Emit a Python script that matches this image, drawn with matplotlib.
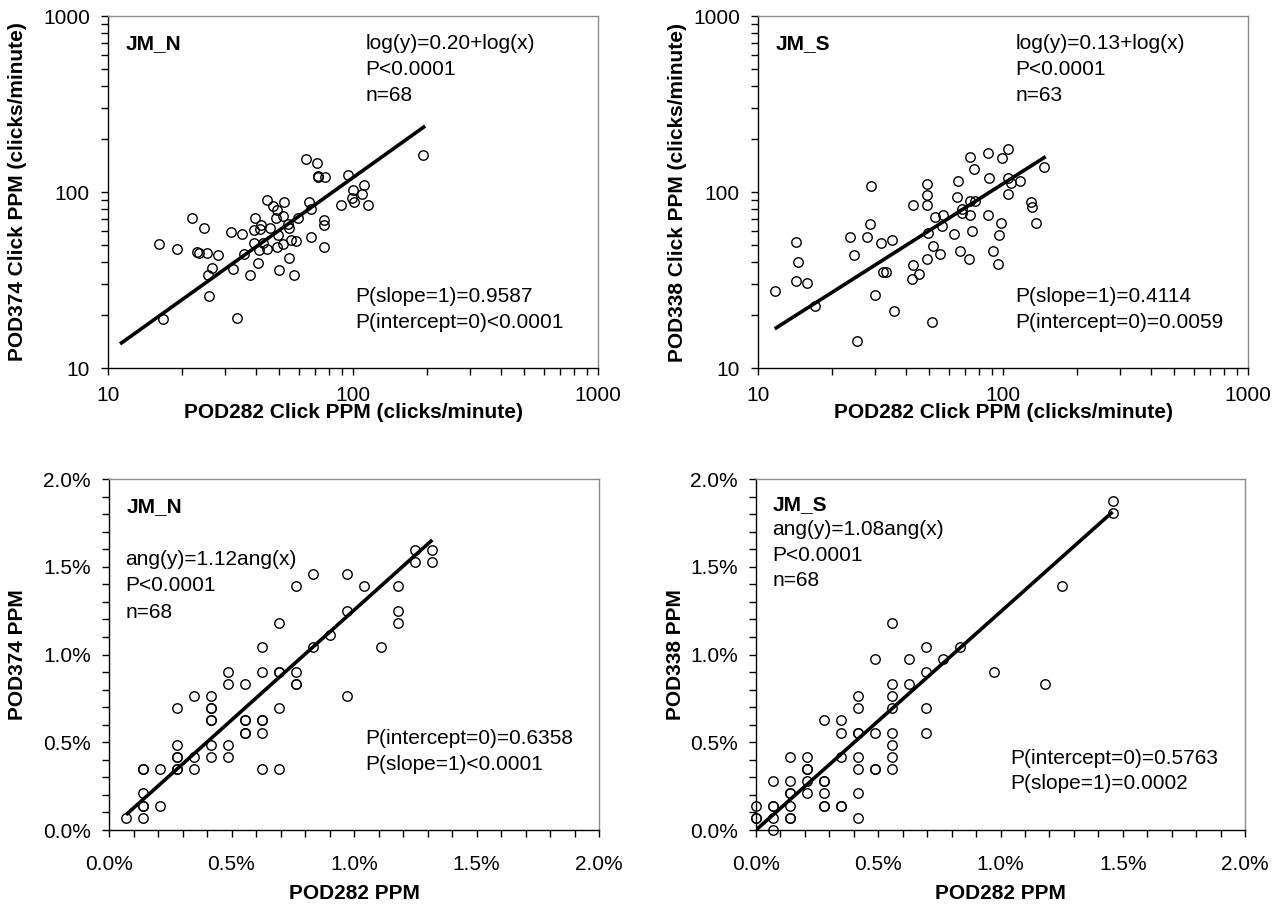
import matplotlib
matplotlib.use("Agg")
import matplotlib.pyplot as plt
from matplotlib.ticker import LogLocator, NullFormatter, FixedLocator, FixedFormatter, MultipleLocator, PercentFormatter

plt.rcParams["font.family"] = ["Liberation Sans", "DejaVu Sans"]
plt.rcParams["font.size"] = 15

# click rates (clicks/minute) per day, JM_N and JM_S pairs
jmn_pod282 = [16.1, 19.1, 22.0, 24.6, 23.0, 23.6, 25.3, 28.2, 26.5, 25.6, 25.8, 16.8, 31.7, 35.2, 32.4,
              33.6, 35.9, 37.9, 39.7, 39.4, 42.0, 41.7, 45.8, 39.6, 41.3, 43.0, 44.7, 40.8, 44.7, 47.3,
              48.8, 48.5, 52.5, 52.0, 54.5, 54.8, 49.6, 48.8, 52.0, 56.0, 58.5, 54.8, 50.0, 57.4, 59.7,
              64.4, 71.3, 72.1, 71.7, 77.1, 66.1, 67.1, 67.6, 75.9, 76.2, 76.2, 89.6, 95.1, 99.3, 101.2,
              100.2, 110.9, 108.6, 115.4, 193.6]
jmn_pod374 = [50.4, 47.6, 70.8, 62.2, 45.6, 45.0, 45.2, 43.6, 36.8, 33.6, 25.8, 19.0, 59.3, 58.1, 36.6,
              19.3, 44.4, 33.6, 71.6, 60.9, 64.7, 61.5, 62.5, 51.2, 46.8, 51.6, 47.2, 39.3, 90.3, 82.8,
              79.2, 71.6, 87.3, 73.3, 65.6, 62.3, 57.0, 49.0, 50.9, 53.3, 52.5, 42.4, 36.2, 33.6, 71.6,
              154.5, 146.6, 123.9, 121.3, 122.3, 87.7, 79.9, 55.5, 69.5, 64.7, 48.6, 84.4, 125.6, 92.1, 87.3,
              103.0, 109.6, 97.5, 84.4, 162.5]
jms_pod282 = [11.7, 14.3, 14.5, 14.3, 15.8, 17.1, 25.3, 28.8, 28.7, 23.8, 24.7, 27.9, 31.8, 35.1, 32.4,
              33.4, 29.9, 36.0, 51.3, 43.0, 48.9, 48.9, 48.9, 52.6, 56.9, 56.2, 49.4, 52.0, 55.5, 43.0,
              48.9, 45.3, 42.4, 65.5, 64.7, 68.2, 67.8, 73.3, 76.9, 73.3, 62.9, 74.9, 66.9, 72.4, 73.1,
              76.2, 86.7, 99.4, 104.5, 87.5, 105.2, 107.5, 117.7, 104.5, 86.7, 97.9, 96.7, 91.3, 95.7, 129.7,
              130.9, 136.5, 146.9]
jms_pod338 = [27.3, 52.2, 40.0, 31.3, 30.3, 22.5, 14.2, 107.6, 65.5, 55.3, 43.9, 55.3, 51.3, 53.2, 35.0,
              35.0, 25.9, 21.0, 18.2, 84.0, 111.4, 96.6, 84.0, 71.8, 73.9, 64.1, 58.2, 49.5, 44.6, 38.6,
              41.5, 34.2, 31.9, 115.6, 93.3, 80.0, 75.6, 89.3, 89.3, 73.9, 58.0, 60.3, 46.3, 41.6, 158.2,
              135.1, 167.2, 155.3, 176.2, 119.7, 120.2, 112.0, 115.6, 97.0, 74.3, 66.7, 57.2, 46.3, 38.8, 87.7,
              82.4, 66.9, 138.1]

# positive minutes per day (out of 1440)
jmn_min282 = [1, 2, 2, 2, 2, 2, 2, 3, 3, 4, 4, 4, 4, 4, 4, 5, 5, 5, 6, 6, 6, 6, 6, 6, 6, 7, 7, 7, 7,
              8, 8, 8, 8, 8, 9, 9, 9, 9, 9, 9, 10, 10, 10, 10, 10, 11, 11, 11, 11, 12, 12, 13,
              14, 14, 14, 15, 16, 17, 17, 17, 18, 18, 19, 19]
jmn_min374 = [1, 1, 2, 2, 3, 5, 5, 2, 5, 5, 5, 6, 6, 7, 10, 5, 6, 11, 6, 7, 9, 9, 10, 10, 11, 6, 7, 12, 13,
              8, 8, 9, 9, 12, 5, 8, 9, 9, 13, 15, 5, 10, 13, 13, 17, 12, 12, 13, 20, 15, 21, 16,
              21, 18, 11, 20, 15, 20, 18, 17, 23, 22, 23, 22]
jms_min282 = [0, 0, 0, 1, 1, 1, 1, 1, 2, 2, 2, 2, 2, 2, 2, 3, 3, 3, 3, 3, 4, 4, 4, 4, 4, 4,
              5, 5, 5, 5, 5, 6, 6, 6, 6, 6, 6, 6, 6, 7, 7, 7, 7, 8, 8, 8, 8, 8, 8, 8, 8,
              9, 9, 10, 10, 10, 10, 11, 12, 14, 17, 18, 21, 21]
jms_min338 = [2, 1, 1, 0, 1, 2, 2, 4, 1, 1, 2, 3, 3, 4, 6, 3, 4, 5, 5, 6, 2, 2, 3, 4, 4, 9,
              2, 2, 6, 8, 9, 1, 3, 5, 6, 8, 8, 10, 11, 5, 5, 8, 14, 5, 6, 7, 8, 10, 11, 12, 17,
              12, 14, 8, 10, 13, 15, 14, 15, 13, 12, 20, 26, 27]

# fitted lines, end points
fit_n_log = ([11.2, 197.0], [13.7, 237.0])
fit_s_log = ([11.7, 149.3], [16.7, 158.8])
fit_n_ppm = ([1, 19], [1.25, 23.8])
fit_s_ppm = ([0, 21], [0, 26.1])
MIN_PER_DAY = 1440.0

W, H = 1282, 905
fig = plt.figure(figsize=(W / 100, H / 100), dpi=100, facecolor="white")


def box(l, t, r, b):
    return [l / W, 1 - b / H, (r - l) / W, (b - t) / H]


def style(ax, xpad):
    for s in ("top", "right"):
        ax.spines[s].set_color("#8c8c8c")
        ax.spines[s].set_linewidth(1.0)
    for s in ("left", "bottom"):
        ax.spines[s].set_color("black")
        ax.spines[s].set_linewidth(1.0)
    ax.tick_params(which="both", direction="out", length=5, width=1, color="black",
                   top=False, right=False, labelsize=15)
    ax.tick_params(axis="y", pad=8)
    ax.tick_params(axis="x", pad=xpad)


def notes(ax, site, site_y, lines, lines_x, lines_y, step, pvals, p_x, p_y):
    ax.text(0.035, site_y, site, transform=ax.transAxes, fontsize=15, weight="bold", va="center")
    for i, t in enumerate(lines):
        ax.text(lines_x, lines_y - i * step, t, transform=ax.transAxes, fontsize=15, va="center")
    for i, t in enumerate(pvals):
        ax.text(p_x, p_y - i * step, t, transform=ax.transAxes, fontsize=15, va="center")


def log_panel(ax, x, y, fit, ylab):
    style(ax, 8)
    ax.set_xscale("log")
    ax.set_yscale("log")
    ax.set_xlim(10, 1000)
    ax.set_ylim(10, 1000)
    for a in (ax.xaxis, ax.yaxis):
        a.set_major_locator(FixedLocator([10, 100, 1000]))
        a.set_major_formatter(FixedFormatter(["10", "100", "1000"]))
        a.set_minor_locator(LogLocator(base=10, subs=range(2, 10)))
        a.set_minor_formatter(NullFormatter())
    ax.plot(x, y, "o", mfc="none", mec="black", ms=6.8, mew=1.0, zorder=3)
    ax.plot(fit[0], fit[1], color="black", lw=2.6, solid_capstyle="butt", zorder=2)
    ax.set_xlabel("POD282 Click PPM (clicks/minute)", fontsize=15, weight="bold")
    ax.set_ylabel(ylab, fontsize=15, weight="bold")
    ax.xaxis.set_label_coords(0.5, -0.1)


def ppm_panel(ax, x, y, fit, ylab):
    style(ax, 13)
    ax.set_xlim(0, 0.02)
    ax.set_ylim(0, 0.02)
    for a in (ax.xaxis, ax.yaxis):
        a.set_major_locator(MultipleLocator(0.005))
        a.set_minor_locator(MultipleLocator(0.001))
        a.set_major_formatter(PercentFormatter(xmax=1, decimals=1))
    xs = [v / MIN_PER_DAY for v in x]
    ys = [v / MIN_PER_DAY for v in y]
    ax.plot(xs, ys, "o", mfc="none", mec="black", ms=6.8, mew=1.0, zorder=3, clip_on=False)
    ax.plot([v / MIN_PER_DAY for v in fit[0]], [v / MIN_PER_DAY for v in fit[1]],
            color="black", lw=2.6, solid_capstyle="butt", zorder=2)
    ax.set_xlabel("POD282 PPM", fontsize=15, weight="bold")
    ax.set_ylabel(ylab, fontsize=15, weight="bold")
    ax.xaxis.set_label_coords(0.5, -0.154)


ax1 = fig.add_axes(box(108, 16, 598, 368))
log_panel(ax1, jmn_pod282, jmn_pod374, fit_n_log, "POD374 Click PPM (clicks/minute)")
notes(ax1, "JM_N", 0.923, ["log(y)=0.20+log(x)", "P<0.0001", "n=68"], 0.525, 0.923, 0.075,
      ["P(slope=1)=0.9587", "P(intercept=0)<0.0001"], 0.504, 0.203)
ax1.yaxis.set_label_coords(-0.165, 0.5)

ax2 = fig.add_axes(box(758, 16, 1248, 368))
log_panel(ax2, jms_pod282, jms_pod338, fit_s_log, "POD338 Click PPM (clicks/minute)")
notes(ax2, "JM_S", 0.923, ["log(y)=0.13+log(x)", "P<0.0001", "n=63"], 0.525, 0.923, 0.075,
      ["P(slope=1)=0.4114", "P(intercept=0)=0.0059"], 0.524, 0.203)
ax2.yaxis.set_label_coords(-0.145, 0.5)

ax3 = fig.add_axes(box(109, 479, 599, 830))
ppm_panel(ax3, jmn_min282, jmn_min374, fit_n_ppm, "POD374 PPM")
notes(ax3, "JM_N", 0.921, ["ang(y)=1.12ang(x)", "P<0.0001", "n=68"], 0.033, 0.771, 0.075,
      ["P(intercept=0)=0.6358", "P(slope=1)<0.0001"], 0.522, 0.261)
ax3.yaxis.set_label_coords(-0.167, 0.5)

ax4 = fig.add_axes(box(756, 479, 1245, 830))
ppm_panel(ax4, jms_min282, jms_min338, fit_s_ppm, "POD338 PPM")
notes(ax4, "JM_S", 0.926, ["ang(y)=1.08ang(x)", "P<0.0001", "n=68"], 0.033, 0.855, 0.072,
      ["P(intercept=0)=0.5763", "P(slope=1)=0.0002"], 0.519, 0.204)
ax4.yaxis.set_label_coords(-0.145, 0.5)

fig.savefig("out.png", dpi=100, facecolor="white")
